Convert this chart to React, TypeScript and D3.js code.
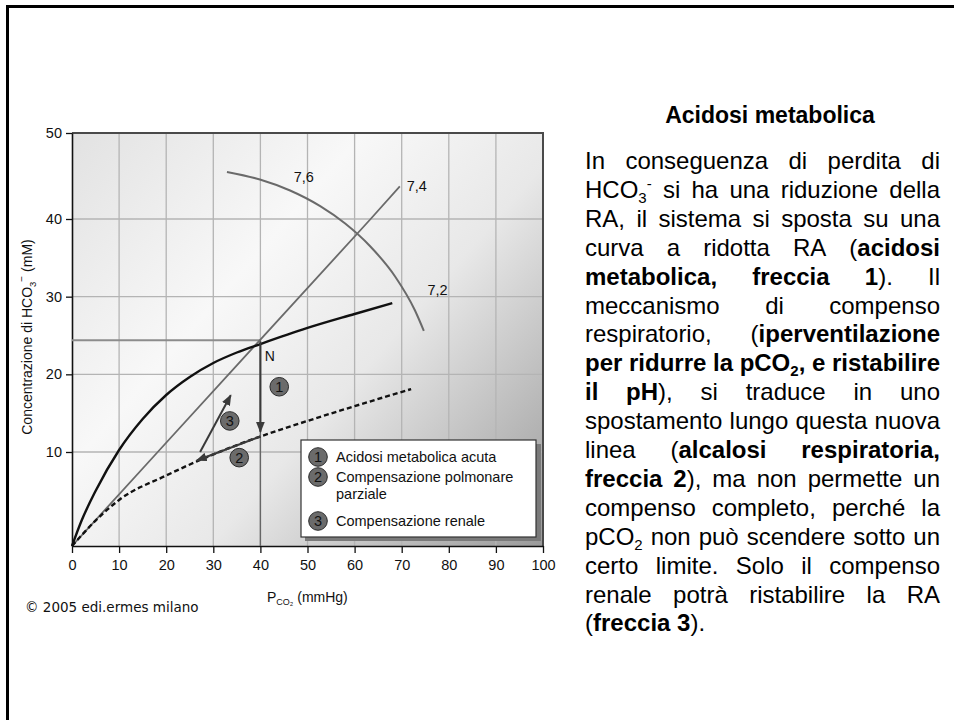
import { useEffect, useRef } from 'react';
import * as d3 from 'd3';

// assi
const xTicks = [0, 10, 20, 30, 40, 50, 60, 70, 80, 90, 100];
const yTicks = [10, 20, 30, 40, 50];

// curve (pCO2, HCO3-)
const normalCurve: [number, number][] = [[0, 0], [2, 2.66], [5, 5.85], [10, 10.26], [15, 14.25], [20, 17.34], [25, 19.66], [30, 21.46], [35, 22.81], [40, 23.9], [50, 25.97], [60, 27.77], [68, 29.18]];
const acidosisCurve: [number, number][] = [[0, 0], [5, 2.7], [10, 4.9], [20, 7.5], [26.5, 9.0], [40, 12.0], [50, 14.0], [60, 15.9], [72, 18.1]];
const iso74: [number, number][] = [[0, 0], [18.2, 10], [63.4, 40], [69.6, 43.8]];
const iso76: [number, number][] = [[32.9, 45.47], [39.9, 44.59], [46.3, 43.31], [52.7, 41.49], [58.0, 39.41], [63.3, 36.49], [68.6, 32.6], [72.8, 28.25], [74.7, 25.6]];
const normalPoint: [number, number] = [40, 24.4];

const arrows: [number, number][][] = [
  [[40, 24.2], [40, 12.6]],
  [[40, 12], [26.5, 9.1]],
  [[27.2, 10], [33.7, 17.3]],
];
const badges: { n: string; p: [number, number] }[] = [
  { n: '1', p: [44, 18.4] },
  { n: '2', p: [35.5, 9.4] },
  { n: '3', p: [33.5, 14] },
];
const isoLabels: { t: string; p: [number, number] }[] = [
  { t: '7,6', p: [49.2, 44.9] },
  { t: '7,4', p: [73.2, 43.8] },
  { t: '7,2', p: [77.6, 30.8] },
];
const legendItems = [
  { n: '1', lines: ['Acidosi metabolica acuta'] },
  { n: '2', lines: ['Compensazione polmonare', 'parziale'] },
  { n: '3', lines: ['Compensazione renale'] },
];

// testo a destra: *grassetto*, _pedice, ^apice
const paragraph = [
  'In conseguenza di perdita di',
  'HCO_3^- si ha una riduzione della',
  'RA, il sistema si sposta su una',
  'curva a ridotta RA (*acidosi*',
  '*metabolica, freccia 1*). Il',
  'meccanismo di compenso',
  'respiratorio, (*iperventilazione*',
  '*per ridurre la pCO_2, e ristabilire*',
  '*il pH*), si traduce in uno',
  'spostamento lungo questa nuova',
  'linea (*alcalosi respiratoria,*',
  '*freccia 2*), ma non permette un',
  'compenso completo, perché la',
  'pCO_2 non può scendere sotto un',
  'certo limite. Solo il compenso',
  'renale potrà ristabilire la RA',
  '(*freccia 3*).',
];

const SANS = '"Liberation Sans", Arial, Helvetica, sans-serif';

type Run = { t: string; b: boolean; k: 'n' | 'sub' | 'sup' };

function parseLine(s: string): Run[][] {
  const words: Run[][] = [];
  let cur: Run[] = [];
  let buf = '';
  let bold = false;
  const flush = () => {
    if (buf) cur.push({ t: buf, b: bold, k: 'n' });
    buf = '';
  };
  for (let i = 0; i < s.length; i++) {
    const c = s[i];
    if (c === '*') { flush(); bold = !bold; }
    else if (c === '_' || c === '^') { flush(); cur.push({ t: s[i + 1], b: bold, k: c === '_' ? 'sub' : 'sup' }); i++; }
    else if (c === ' ') { flush(); words.push(cur); cur = []; }
    else buf += c;
  }
  flush();
  words.push(cur);
  return words;
}

export default function App() {
  const svgRef = useRef<SVGSVGElement>(null);

  function renderChart() {
    const svg = d3.select(svgRef.current);
    svg.selectAll('*').remove();

    const x = d3.scaleLinear().domain([0, 100]).range([72, 543]);
    // la scala della figura non è uniforme
    const y = d3.scaleLinear().domain([0, 10, 40, 50]).range([546, 452, 219, 133]);

    const defs = svg.append('defs');
    const grad = defs.append('linearGradient').attr('id', 'bg')
      .attr('gradientUnits', 'userSpaceOnUse')
      .attr('x1', x(0)).attr('y1', y(50)).attr('x2', x(100)).attr('y2', y(0));
    [[0, '#e2e2e2'], [0.35, '#f8f8f8'], [0.6, '#e8e8e8'], [1, '#9a9a9a']].forEach(([o, c]) => {
      grad.append('stop').attr('offset', o as number).attr('stop-color', c as string);
    });
    defs.append('marker').attr('id', 'head')
      .attr('viewBox', '0 0 10 8').attr('refX', 9).attr('refY', 4)
      .attr('markerWidth', 11).attr('markerHeight', 9)
      .attr('markerUnits', 'userSpaceOnUse').attr('orient', 'auto')
      .append('path').attr('d', 'M0,0L10,4L0,8Z').attr('fill', '#3a3a3a');

    // cornice della slide
    svg.append('path').attr('d', 'M7.5,720V6.5H954').attr('fill', 'none')
      .attr('stroke', '#000').attr('stroke-width', 3);

    const g = svg.append('g');
    g.append('rect').attr('x', x(0)).attr('y', y(50))
      .attr('width', x(100) - x(0)).attr('height', y(0) - y(50)).attr('fill', 'url(#bg)');

    // griglia
    g.selectAll('.vgrid').data(xTicks.slice(1, -1)).join('line')
      .attr('x1', (d) => x(d)).attr('x2', (d) => x(d)).attr('y1', y(0)).attr('y2', y(50))
      .attr('stroke', '#b4b4b4').attr('stroke-width', 1.3);
    g.selectAll('.hgrid').data(yTicks.slice(0, -1)).join('line')
      .attr('x1', x(0)).attr('x2', x(100)).attr('y1', (d) => y(d)).attr('y2', (d) => y(d))
      .attr('stroke', '#b4b4b4').attr('stroke-width', 1.3);

    // bordo alto e destro
    g.append('path').attr('d', `M${x(0)},${y(50)}H${x(100)}V${y(0)}`)
      .attr('fill', 'none').attr('stroke', '#4a4a4a').attr('stroke-width', 2);

    // assi
    const xAxis = g.append('g').attr('transform', `translate(0,${y(0)})`)
      .call(d3.axisBottom(x).tickValues(xTicks).tickSize(7).tickSizeOuter(0));
    const yAxis = g.append('g').attr('transform', `translate(${x(0)},0)`)
      .call(d3.axisLeft(y).tickValues(yTicks).tickSize(6).tickSizeOuter(0));
    [xAxis, yAxis].forEach((a) => {
      a.select('.domain').attr('stroke', '#111').attr('stroke-width', 1.6);
      a.selectAll('.tick line').attr('stroke', '#111').attr('stroke-width', 1.3);
      a.selectAll('.tick text').attr('font-family', SANS).attr('font-size', 14.5).attr('fill', '#111');
    });
    xAxis.selectAll('.tick text').attr('y', 14);
    yAxis.selectAll('.tick text').attr('x', -10);

    const line = d3.line<[number, number]>().x((d) => x(d[0])).y((d) => y(d[1]));
    const smooth = d3.line<[number, number]>().x((d) => x(d[0])).y((d) => y(d[1])).curve(d3.curveMonotoneX);

    // linee di riferimento del punto N
    g.append('path').attr('d', line([[0, normalPoint[1]], normalPoint]))
      .attr('stroke', '#8c8c8c').attr('stroke-width', 2).attr('fill', 'none');
    g.append('path').attr('d', line([normalPoint, [normalPoint[0], 0]]))
      .attr('stroke', '#666').attr('stroke-width', 1.4).attr('fill', 'none');

    // isopH
    g.append('path').attr('d', line(iso74)).attr('stroke', '#6a6a6a').attr('stroke-width', 1.8).attr('fill', 'none');
    g.append('path').attr('d', smooth(iso76)).attr('stroke', '#6a6a6a').attr('stroke-width', 2).attr('fill', 'none');

    // tamponi
    g.append('path').attr('d', smooth(normalCurve)).attr('stroke', '#111').attr('stroke-width', 2.4).attr('fill', 'none');
    g.append('path').attr('d', smooth(acidosisCurve)).attr('stroke', '#111').attr('stroke-width', 2.4)
      .attr('stroke-dasharray', '5,3').attr('fill', 'none');

    // frecce
    g.selectAll('.arrow').data(arrows).join('path')
      .attr('d', (d) => line(d))
      .attr('stroke', '#3a3a3a').attr('stroke-width', 2).attr('fill', 'none')
      .attr('marker-end', 'url(#head)');

    const badge = (sel: d3.Selection<SVGGElement, unknown, null, undefined>, n: string, cx: number, cy: number) => {
      sel.append('circle').attr('cx', cx).attr('cy', cy).attr('r', 9.3)
        .attr('fill', '#6b6b6b').attr('stroke', '#2a2a2a').attr('stroke-width', 1);
      sel.append('text').attr('x', cx).attr('y', cy + 5.2).attr('text-anchor', 'middle')
        .attr('font-family', SANS).attr('font-size', 14.5).attr('fill', '#111').text(n);
    };
    badges.forEach((b) => badge(g as any, b.n, x(b.p[0]), y(b.p[1])));

    g.append('text').attr('x', x(42)).attr('y', y(22.4) + 5).attr('text-anchor', 'middle')
      .attr('font-family', SANS).attr('font-size', 14).attr('fill', '#111').text('N');

    g.selectAll('.iso').data(isoLabels).join('text')
      .attr('x', (d) => x(d.p[0])).attr('y', (d) => y(d.p[1]) + 5).attr('text-anchor', 'middle')
      .attr('font-family', SANS).attr('font-size', 14.5).attr('fill', '#111').text((d) => d.t);

    // legenda
    const lg = g.append('g');
    lg.append('rect').attr('x', 305).attr('y', 444).attr('width', 236).attr('height', 97).attr('fill', '#7a7a7a');
    lg.append('rect').attr('x', 301).attr('y', 440).attr('width', 235).attr('height', 97)
      .attr('fill', '#fff').attr('stroke', '#333').attr('stroke-width', 1.2);
    const rowY = [457, 477, 521];
    legendItems.forEach((it, i) => {
      badge(lg as any, it.n, 318, rowY[i]);
      it.lines.forEach((t, j) => {
        lg.append('text').attr('x', 336).attr('y', rowY[i] + 5 + j * 17)
          .attr('font-family', SANS).attr('font-size', 14.5).attr('fill', '#111').text(t);
      });
    });

    // titoli assi
    const yl = g.append('text').attr('transform', 'translate(32,337) rotate(-90)')
      .attr('text-anchor', 'middle').attr('font-family', SANS).attr('font-size', 14).attr('fill', '#111');
    yl.append('tspan').text('Concentrazione di HCO');
    yl.append('tspan').attr('font-size', 9.5).attr('dy', 4).text('3');
    yl.append('tspan').attr('font-size', 10).attr('dy', -11).text('−');
    yl.append('tspan').attr('dy', 7).text(' (mM)');

    const xl = g.append('text').attr('x', 267).attr('y', 602)
      .attr('font-family', SANS).attr('font-size', 14).attr('fill', '#111');
    xl.append('tspan').text('P');
    xl.append('tspan').attr('font-size', 9).attr('dy', 3).text('CO₂');
    xl.append('tspan').attr('dy', -3).text(' (mmHg)');

    g.append('text').attr('x', 25).attr('y', 612)
      .attr('font-family', '"DejaVu Sans", Verdana, sans-serif').attr('font-size', 13.5).attr('fill', '#111')
      .text('© 2005 edi.ermes milano');

    // titolo e testo giustificato
    svg.append('text').attr('x', 770).attr('y', 123).attr('text-anchor', 'middle')
      .attr('font-family', SANS).attr('font-size', 23).attr('font-weight', 'bold').attr('fill', '#000')
      .text('Acidosi metabolica');

    const left = 585;
    const right = 940;
    const fs = 24;
    const para = svg.append('g').attr('font-family', SANS).attr('font-size', fs).attr('fill', '#000');
    paragraph.forEach((src, li) => {
      const base = 169 + li * 28.9;
      const words = parseLine(src);
      const nodes = words.map((runs) => {
        const t = para.append('text').attr('y', base);
        let shift = 0;
        runs.forEach((r) => {
          const target = r.k === 'sub' ? 5 : r.k === 'sup' ? -9 : 0;
          const ts = t.append('tspan').attr('font-weight', r.b ? 'bold' : 'normal').text(r.t);
          if (r.k !== 'n') ts.attr('font-size', 15);
          if (target !== shift) ts.attr('dy', target - shift);
          shift = target;
        });
        return t;
      });
      const widths = nodes.map((t) => (t.node() as SVGTextElement).getComputedTextLength());
      const total = d3.sum(widths);
      const last = li === paragraph.length - 1;
      const gap = last || nodes.length < 2 ? fs * 0.278 : (right - left - total) / (nodes.length - 1);
      let cx = left;
      nodes.forEach((t, i) => {
        t.attr('x', cx);
        cx += widths[i] + gap;
      });
    });
  }

  useEffect(() => {
    renderChart();
  }, []);

  return (
    <svg ref={svgRef} width={954} height={720} style={{ position: 'absolute', left: 0, top: 0, background: '#fff' }} />
  );
}
